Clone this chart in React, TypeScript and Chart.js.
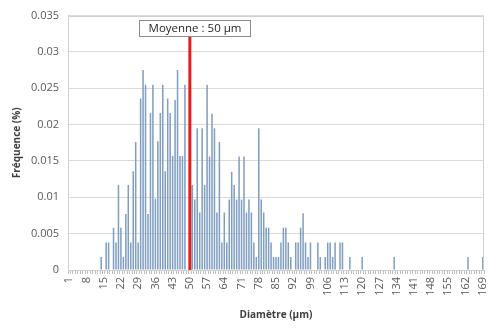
import React, { useEffect, useRef } from "react";
import { Chart, registerables } from "chart.js";

Chart.register(...registerables);

// Diameter classes (µm) shown on the x axis
const diameters: number[] = Array.from({ length: 169 }, (_, k) => k + 1);

// Non-zero classes and their frequencies
const observedDiameters: number[] = [
  14, 16, 17, 19, 20, 21, 22, 23, 24, 25, 26, 27, 28, 29, 30, 31, 32, 33, 34, 35,
  36, 37, 38, 39, 40, 41, 42, 43, 44, 45, 46, 47, 48, 51, 52, 53, 54, 55, 56, 57,
  58, 59, 60, 61, 62, 63, 64, 65, 66, 67, 68, 69, 70, 71, 72, 73, 74, 75, 76, 77,
  78, 79, 80, 81, 82, 83, 84, 85, 86, 87, 88, 89, 90, 91, 93, 94, 95, 96, 97, 98,
  99, 102, 103, 105, 106, 107, 108, 109, 111, 112, 115, 120, 133, 163, 169,
];
const observedFrequencies: number[] = [
  0.0018, 0.0038, 0.0038, 0.0058, 0.0038, 0.0117, 0.0058, 0.0018, 0.0077, 0.0117,
  0.0038, 0.0136, 0.0176, 0.0038, 0.0236, 0.0275, 0.0255, 0.0077, 0.0216, 0.0255,
  0.0098, 0.0177, 0.0216, 0.0255, 0.0136, 0.0236, 0.0216, 0.0157, 0.0234, 0.0275,
  0.0157, 0.0157, 0.0255, 0.0117, 0.0097, 0.0195, 0.0079, 0.0195, 0.0117, 0.0255,
  0.0156, 0.0215, 0.0195, 0.0079, 0.0176, 0.0038, 0.0079, 0.0038, 0.0097, 0.0135,
  0.0117, 0.0097, 0.0156, 0.0097, 0.0156, 0.0079, 0.0097, 0.0079, 0.0038, 0.0018,
  0.0195, 0.0097, 0.0079, 0.0058, 0.0058, 0.0038, 0.0018, 0.0018, 0.0018, 0.0038,
  0.0058, 0.0058, 0.0038, 0.0018, 0.0038, 0.0038, 0.0058, 0.0078, 0.0038, 0.0018,
  0.0038, 0.0038, 0.0018, 0.0018, 0.0038, 0.0038, 0.0018, 0.0038, 0.0038, 0.0038,
  0.0018, 0.0018, 0.0018, 0.0018, 0.0018,
];

const meanDiameter = 50;
const meanLabel = "Moyenne : 50 µm";
const xTitle = "Diamètre (µm)";
const yTitle = "Fréquence (%)";

const FONT = "'Open Sans', 'Liberation Sans', sans-serif";

export default function App() {
  const ref = useRef<HTMLCanvasElement | null>(null);

  useEffect(() => {
    document.body.style.margin = "0";
    const canvas = ref.current;
    if (!canvas) return;

    const freqMap = new Map<number, number>();
    observedDiameters.forEach((d, k) => freqMap.set(d, observedFrequencies[k]));
    const series = diameters.map((d) => freqMap.get(d) ?? 0);

    const meanPlugin = {
      id: "meanPlugin",
      afterDatasetsDraw(chart: any) {
        const { ctx, chartArea, scales } = chart;
        const x = scales.x.getPixelForValue(diameters.indexOf(meanDiameter));
        const yBottom = scales.y.getPixelForValue(0);
        ctx.save();
        // plot area border
        ctx.strokeStyle = "#d0d0d0";
        ctx.lineWidth = 1;
        ctx.strokeRect(
          Math.round(chartArea.left) + 0.5,
          Math.round(chartArea.top) + 0.5,
          Math.round(chartArea.right - chartArea.left) - 1,
          Math.round(chartArea.bottom - chartArea.top)
        );
        // label box
        ctx.font = `11.5px ${FONT}`;
        const tw = ctx.measureText(meanLabel).width;
        const boxW = Math.round(tw + 18);
        const boxH = 16;
        const boxTop = Math.round(chartArea.top) + 4.5;
        const boxLeft = Math.round(x - boxW / 2 + 5) + 0.5;
        // red line
        ctx.strokeStyle = "#e0201c";
        ctx.lineWidth = 3;
        ctx.beginPath();
        ctx.moveTo(x, boxTop + boxH);
        ctx.lineTo(x, yBottom);
        ctx.stroke();
        ctx.fillStyle = "#ffffff";
        ctx.fillRect(boxLeft, boxTop, boxW, boxH);
        ctx.strokeStyle = "#8c8c8c";
        ctx.lineWidth = 1;
        ctx.strokeRect(boxLeft, boxTop, boxW, boxH);
        ctx.fillStyle = "#262626";
        ctx.textAlign = "center";
        ctx.textBaseline = "middle";
        ctx.fillText(meanLabel, boxLeft + boxW / 2, boxTop + boxH / 2 + 0.5);
        ctx.restore();
      },
    };

    const chart = new Chart(canvas, {
      type: "bar",
      data: {
        labels: diameters.map(String),
        datasets: [
          {
            data: series,
            backgroundColor: "#809ec2",
            borderWidth: 0,
            barPercentage: 0.62,
            categoryPercentage: 1,
          },
        ],
      },
      options: {
        animation: false,
        responsive: false,
        maintainAspectRatio: false,
        layout: { padding: { top: 14, right: 6, left: 11, bottom: 0 } },
        plugins: {
          legend: { display: false },
          tooltip: { enabled: false },
        },
        scales: {
          x: {
            grid: {
              drawOnChartArea: false,
              drawTicks: true,
              tickLength: 4,
              color: "#bfbfbf",
            },
            border: { color: "#bfbfbf" },
            ticks: {
              autoSkip: false,
              maxRotation: 90,
              minRotation: 90,
              color: "#595959",
              font: { family: FONT, size: 11 },
              padding: 3,
              callback: (_v: any, index: number) =>
                index % 7 === 0 ? String(diameters[index]) : "",
            },
            title: {
              display: true,
              text: xTitle,
              color: "#404040",
              font: { family: FONT, size: 10, weight: "bold" },
              padding: { top: 6, bottom: 8 },
            },
            afterFit: (scale: any) => {
              scale.height = 59;
            },
          },
          y: {
            min: 0,
            max: 0.035,
            grid: { color: "#d9d9d9", drawTicks: false },
            border: { color: "#bfbfbf" },
            ticks: {
              stepSize: 0.005,
              color: "#595959",
              font: { family: FONT, size: 11 },
              padding: 9,
              callback: (v: any) => String(Number(Number(v).toFixed(3))),
            },
            title: {
              display: true,
              text: yTitle,
              color: "#404040",
              font: { family: FONT, size: 10, weight: "bold" },
              padding: { top: 0, bottom: 4 },
            },
            afterFit: (scale: any) => {
              scale.width = 57;
            },
          },
        },
      },
      plugins: [meanPlugin],
    });

    return () => chart.destroy();
  }, []);

  return (
    <div style={{ width: 499, height: 329, background: "#ffffff" }}>
      <canvas ref={ref} width={499} height={329} style={{ display: "block" }} />
    </div>
  );
}
